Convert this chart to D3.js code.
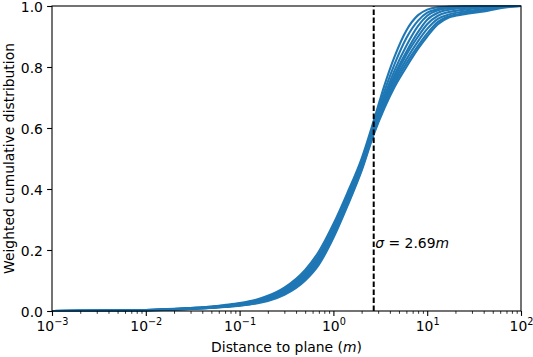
<!DOCTYPE html>
<html>
<head>
<meta charset="utf-8">
<script src="https://cdn.jsdelivr.net/npm/d3@7"></script>
<style>
  html, body { margin: 0; padding: 0; background: #fff; }
  svg { display: block; }
  text { font-family: "DejaVu Sans", sans-serif; }
</style>
</head>
<body>
<svg id="chart" width="533" height="357"></svg>
<script>
// ---- data ----
const distances = [0.001, 0.002, 0.005, 0.01, 0.02, 0.03, 0.05, 0.07, 0.1, 0.15, 0.2, 0.3, 0.5, 0.7, 1, 1.4, 2, 2.7, 3.5, 4.5, 6, 8, 10, 13, 17, 25, 40, 60, 100];

const run1 = [0, 0.0006, 0.0018, 0.0035, 0.007, 0.010, 0.015, 0.020, 0.026, 0.037, 0.050, 0.077, 0.135, 0.195, 0.285, 0.385, 0.50, 0.625, 0.74, 0.835, 0.92, 0.97, 0.988, 0.996, 0.998, 0.999, 1, 1, 1];
const run2 = [0, 0.0005, 0.0016, 0.0032, 0.0065, 0.0095, 0.014, 0.018, 0.024, 0.034, 0.046, 0.072, 0.128, 0.185, 0.275, 0.375, 0.49, 0.615, 0.72, 0.81, 0.895, 0.952, 0.978, 0.99, 0.995, 0.998, 0.999, 1, 1];
const run3 = [0, 0.0005, 0.0015, 0.003, 0.006, 0.009, 0.013, 0.017, 0.022, 0.032, 0.043, 0.068, 0.122, 0.178, 0.268, 0.37, 0.487, 0.61, 0.705, 0.79, 0.87, 0.935, 0.968, 0.986, 0.993, 0.997, 0.999, 1, 1];
const run4 = [0, 0.0004, 0.0014, 0.0029, 0.0058, 0.0085, 0.0125, 0.0165, 0.021, 0.031, 0.041, 0.065, 0.117, 0.172, 0.262, 0.365, 0.482, 0.60, 0.695, 0.775, 0.85, 0.915, 0.955, 0.978, 0.988, 0.994, 0.998, 1, 1];
const run5 = [0, 0.0004, 0.0013, 0.0027, 0.0055, 0.008, 0.012, 0.016, 0.020, 0.029, 0.039, 0.062, 0.112, 0.166, 0.255, 0.358, 0.475, 0.595, 0.688, 0.765, 0.84, 0.90, 0.94, 0.968, 0.98, 0.988, 0.995, 0.999, 1];
const run6 = [0, 0.0004, 0.0012, 0.0025, 0.005, 0.0075, 0.011, 0.015, 0.019, 0.028, 0.037, 0.059, 0.108, 0.162, 0.25, 0.352, 0.47, 0.59, 0.68, 0.755, 0.825, 0.885, 0.925, 0.958, 0.972, 0.982, 0.99, 0.997, 1];
const run7 = [0, 0.0003, 0.0011, 0.0023, 0.0047, 0.007, 0.0105, 0.014, 0.018, 0.026, 0.035, 0.056, 0.104, 0.157, 0.245, 0.347, 0.465, 0.585, 0.672, 0.745, 0.812, 0.87, 0.91, 0.948, 0.966, 0.977, 0.986, 0.995, 1];
const run8 = [0, 0.0003, 0.001, 0.0021, 0.0044, 0.0065, 0.010, 0.013, 0.017, 0.025, 0.033, 0.053, 0.10, 0.152, 0.24, 0.342, 0.46, 0.58, 0.665, 0.735, 0.80, 0.86, 0.90, 0.94, 0.962, 0.973, 0.982, 0.993, 1];
const runs = [run1, run2, run3, run4, run5, run6, run7, run8];

const sigmaValue = 2.69;
const sigmaLabelPos = [2.8, 0.205];

const xDecades = [1e-3, 1e-2, 1e-1, 1e0, 1e1, 1e2];
const xDecadeExponents = ["−3", "−2", "−1", "0", "1", "2"];
const yTicks = [0, 0.2, 0.4, 0.6, 0.8, 1.0];

const xLabel = "Distance to plane (";
const xLabelUnit = "m";
const yLabel = "Weighted cumulative distribution";

// ---- layout ----
const W = 533, H = 357;
const margin = { left: 52, right: 12, top: 6, bottom: 46 };
const fontSize = 13.9;
const blue = "#1f77b4";

const svg = d3.select("#chart");
const x = d3.scaleLog().domain([1e-3, 1e2]).range([margin.left, W - margin.right]);
const y = d3.scaleLinear().domain([0, 1]).range([H - margin.bottom, margin.top]);

// clip
svg.append("defs").append("clipPath").attr("id", "clip")
  .append("rect")
  .attr("x", margin.left).attr("y", margin.top - 2)
  .attr("width", W - margin.left - margin.right)
  .attr("height", H - margin.top - margin.bottom + 4);

// curves
const line = d3.line()
  .x(d => x(d[0]))
  .y(d => y(d[1]))
  .curve(d3.curveMonotoneX);

const gLines = svg.append("g").attr("clip-path", "url(#clip)");
runs.forEach(r => {
  gLines.append("path")
    .datum(distances.map((d, i) => [d, r[i]]))
    .attr("d", line)
    .attr("fill", "none")
    .attr("stroke", blue)
    .attr("stroke-width", 2.1)
    .attr("stroke-linejoin", "round")
    .attr("stroke-linecap", "round");
});

// sigma dashed line
svg.append("line")
  .attr("x1", x(sigmaValue)).attr("x2", x(sigmaValue))
  .attr("y1", y(0)).attr("y2", y(1))
  .attr("stroke", "#000")
  .attr("stroke-width", 2)
  .attr("stroke-dasharray", "5.5,2.5");

// sigma label
const sl = svg.append("text")
  .attr("x", x(sigmaLabelPos[0]))
  .attr("y", y(sigmaLabelPos[1]))
  .attr("font-size", fontSize)
  .attr("fill", "#000");
sl.append("tspan").attr("font-style", "italic").text("σ");
sl.append("tspan").text(" = " + sigmaValue.toFixed(2));
sl.append("tspan").attr("font-style", "italic").text("m");

// ---- axes ----
const tickW = 1.1;
// x major
const xAxis = d3.axisBottom(x).tickValues(xDecades).tickFormat("").tickSize(4.9).tickSizeOuter(0);
const gx = svg.append("g").attr("transform", `translate(0,${y(0)})`).call(xAxis);
gx.select(".domain").remove();
gx.selectAll(".tick line").attr("stroke", "#000").attr("stroke-width", tickW);

// x minor
const minor = [];
xDecades.slice(0, -1).forEach(d => { for (let k = 2; k <= 9; k++) minor.push(d * k); });
const xMinor = d3.axisBottom(x).tickValues(minor).tickFormat("").tickSize(2.8).tickSizeOuter(0);
const gxm = svg.append("g").attr("transform", `translate(0,${y(0)})`).call(xMinor);
gxm.select(".domain").remove();
gxm.selectAll(".tick line").attr("stroke", "#000").attr("stroke-width", 0.8);

// x tick labels with superscripts
gx.selectAll(".tick").each(function(d, i) {
  const t = d3.select(this).append("text")
    .attr("y", 20)
    .attr("fill", "#000")
    .attr("font-size", fontSize)
    .attr("text-anchor", "middle");
  t.append("tspan").text("10");
  t.append("tspan").attr("font-size", fontSize * 0.7).attr("dy", -6.5).text(xDecadeExponents[i]);
});

// y axis
const yAxis = d3.axisLeft(y).tickValues(yTicks).tickFormat(d3.format(".1f")).tickSize(4.9).tickSizeOuter(0).tickPadding(4.2);
const gy = svg.append("g").attr("transform", `translate(${x(1e-3)},0)`).call(yAxis);
gy.select(".domain").remove();
gy.selectAll(".tick line").attr("stroke", "#000").attr("stroke-width", tickW);
gy.selectAll(".tick text")
  .attr("font-size", fontSize)
  .attr("font-family", "DejaVu Sans")
  .attr("fill", "#000")
  .attr("dy", "0.36em");

// frame
svg.append("rect")
  .attr("x", margin.left).attr("y", margin.top)
  .attr("width", W - margin.left - margin.right)
  .attr("height", H - margin.top - margin.bottom)
  .attr("fill", "none")
  .attr("stroke", "#000")
  .attr("stroke-width", tickW);

// axis labels
const xl = svg.append("text")
  .attr("x", (margin.left + W - margin.right) / 2)
  .attr("y", 351.5)
  .attr("text-anchor", "middle")
  .attr("font-size", fontSize)
  .attr("fill", "#000");
xl.append("tspan").text(xLabel);
xl.append("tspan").attr("font-style", "italic").text(xLabelUnit);
xl.append("tspan").text(")");

svg.append("text")
  .attr("transform", `translate(13.5,${(margin.top + H - margin.bottom) / 2}) rotate(-90)`)
  .attr("text-anchor", "middle")
  .attr("font-size", fontSize)
  .attr("fill", "#000")
  .text(yLabel);
</script>
</body>
</html>
